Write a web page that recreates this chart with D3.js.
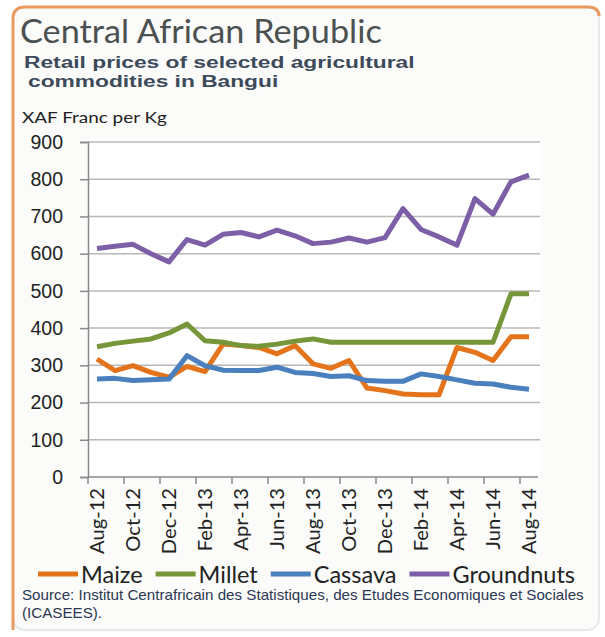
<!DOCTYPE html>
<html><head><meta charset="utf-8">
<script src="https://cdn.jsdelivr.net/npm/d3@7"></script>
<style>html,body{margin:0;padding:0;background:#fff;} svg{display:block}</style>
</head><body>
<svg id="chart" width="605" height="637"></svg>
<script>
// ---------- data ----------
const months = ["Aug-12","Sep-12","Oct-12","Nov-12","Dec-12","Jan-13","Feb-13","Mar-13","Apr-13","May-13","Jun-13","Jul-13","Aug-13","Sep-13","Oct-13","Nov-13","Dec-13","Jan-14","Feb-14","Mar-14","Apr-14","May-14","Jun-14","Jul-14","Aug-14"];
const maize      = [317,286,299,281,268,297,283,357,353,348,331,353,304,292,313,239,232,223,221,221,348,335,313,377,377];
const millet     = [350,359,365,371,387,411,366,362,353,351,357,365,371,362,362,362,362,362,362,362,362,362,362,492,492];
const cassava    = [263,265,259,261,263,326,299,287,286,286,295,281,278,270,272,259,257,257,277,270,261,252,250,241,236];
const groundnuts = [614,620,625,600,578,638,623,652,657,645,663,648,627,631,642,631,643,721,665,645,623,748,706,793,811];
const seriesNames = ["Maize","Millet","Cassava","Groundnuts"];
const yTicks = [0,100,200,300,400,500,600,700,800,900];
const titleText = "Central African Republic";
const subtitleLines = ["Retail prices of selected agricultural","commodities in Bangui"];
const unitText = "XAF Franc  per Kg";
const sourceLines = ["Source: Institut Centrafricain des Statistiques, des Etudes Economiques et Sociales","(ICASEES)."];

// ---------- setup ----------
const svg = d3.select("#chart");
const colors = {Maize:"#E4741C", Millet:"#77963A", Cassava:"#4A80BE", Groundnuts:"#7C5FA6"};
const seriesData = [
  {name:"Maize", values:maize},
  {name:"Millet", values:millet},
  {name:"Cassava", values:cassava},
  {name:"Groundnuts", values:groundnuts}
];

function fitWidth(sel, w){
  const cur = sel.node().getComputedTextLength();
  const fs = parseFloat(sel.attr("font-size"));
  const nf = fs * w / cur;
  sel.attr("font-size", nf);
  return nf;
}
// place text at (px,py) and squeeze horizontally to width w; returns scale
function fitScale(sel, px, py, w){
  const cur = sel.node().getComputedTextLength();
  const k = w/cur;
  sel.attr("x",0).attr("y",0).attr("transform",`translate(${px},${py}) scale(${k},1)`);
  return k;
}

// frame
svg.append("rect").attr("x",13).attr("y",7).attr("width",586).attr("height",623)
  .attr("rx",12).attr("fill","#fbfcfa").attr("stroke","#e4eaec").attr("stroke-width",2);
svg.append("path").attr("d","M13,630 L13,19 Q13,7 25,7 L588,7 Q599,7 599,16")
  .attr("fill","none").attr("stroke","#E99A5E").attr("stroke-width",3);

// titles
const t = svg.append("text").attr("font-family","Lato, 'Open Sans', sans-serif")
  .attr("font-size",33).attr("fill","#4b5050").text(titleText);
fitScale(t, 20, 43, 362);
const s1 = svg.append("text").attr("font-family","'Liberation Sans', Arial, sans-serif")
  .attr("font-weight","bold").attr("font-size",16).attr("fill","#3d4a5a").text(subtitleLines[0]);
const sk = fitScale(s1, 24, 68, 391);
svg.append("text").attr("font-family","'Liberation Sans', Arial, sans-serif")
  .attr("font-weight","bold").attr("font-size",16).attr("fill","#3d4a5a").text(subtitleLines[1])
  .attr("transform",`translate(28,87) scale(${sk},1)`);
const u = svg.append("text").attr("font-family","Lato, sans-serif")
  .attr("font-size",15).attr("fill","#222").text(unitText);
fitScale(u, 22, 123, 145);

// scales
const x = d3.scaleBand().domain(months).range([88, 538]).padding(0);
const y = d3.scaleLinear().domain([0, 900]).range([477, 142]);
const cx = m => x(m) + x.bandwidth()/2;

// plot background
svg.append("rect").attr("x",88).attr("y",138).attr("width",452).attr("height",340).attr("fill","#fff");

// gridlines
svg.append("g").selectAll("line").data(yTicks.filter(v=>v>0)).join("line")
  .attr("x1",88).attr("x2",540).attr("y1",d=>y(d)).attr("y2",d=>y(d))
  .attr("stroke","#b8b8b8").attr("stroke-width",1.5);

// y axis
const yAxis = svg.append("g").attr("transform","translate(88,0)")
  .call(d3.axisLeft(y).tickValues(yTicks).tickSize(8).tickPadding(17).tickFormat(d3.format("d")));
yAxis.select(".domain").attr("stroke","#8a8a8a").attr("stroke-width",1.5);
yAxis.selectAll(".tick line").attr("stroke","#8a8a8a").attr("stroke-width",1.5);
yAxis.selectAll(".tick text").attr("font-family","'Liberation Sans', Arial, sans-serif")
  .attr("font-size",19.5).attr("fill","#222");

// x axis
const labelMonths = months.filter((m,i)=>i%2===0);
const xg = svg.append("g");
xg.append("line").attr("x1",88).attr("x2",538).attr("y1",477).attr("y2",477)
  .attr("stroke","#8a8a8a").attr("stroke-width",1.5);
xg.selectAll("line.tk").data(labelMonths).join("line").attr("class","tk")
  .attr("x1",d=>x(d)).attr("x2",d=>x(d)).attr("y1",477).attr("y2",484)
  .attr("stroke","#8a8a8a").attr("stroke-width",1.5);
const xl = xg.selectAll("text").data(labelMonths).join("text")
  .attr("transform",d=>`translate(${cx(d)},488) rotate(-90)`)
  .attr("text-anchor","end").attr("dy","0.35em")
  .attr("font-family","Lato, sans-serif").attr("font-size",17).attr("fill","#222")
  .text(d=>d);
const xfs = fitWidth(d3.select(xl.nodes()[0]), 66);
xl.attr("font-size", xfs);

// lines
const line = d3.line().x((d,i)=>cx(months[i])).y(d=>y(d));
svg.append("g").selectAll("path").data(seriesData).join("path")
  .attr("d",d=>line(d.values)).attr("fill","none")
  .attr("stroke",d=>colors[d.name]).attr("stroke-width",5)
  .attr("stroke-linejoin","round").attr("stroke-linecap","butt");

// legend
const lg = svg.append("g");
let lx = 38;
seriesNames.forEach((n,i)=>{
  lg.append("line").attr("x1",lx).attr("x2",lx+40).attr("y1",574).attr("y2",574)
    .attr("stroke",colors[n]).attr("stroke-width",5);
  const tx = lg.append("text").attr("x",lx+43).attr("y",583).attr("font-family","Lato, sans-serif")
    .attr("font-size",23.5).attr("fill","#222").text(n);
  lx += 43 + tx.node().getComputedTextLength() + 13;
});

// source
const so = svg.append("text").attr("x",22).attr("y",600).attr("font-family","'Liberation Sans', Arial, sans-serif")
  .attr("font-size",12).attr("fill","#2c3752").text(sourceLines[0]);
const sofs = fitWidth(so, 562);
svg.append("text").attr("x",22).attr("y",618).attr("font-family","'Liberation Sans', Arial, sans-serif")
  .attr("font-size",sofs).attr("fill","#2c3752").text(sourceLines[1]);
</script>
</body></html>
